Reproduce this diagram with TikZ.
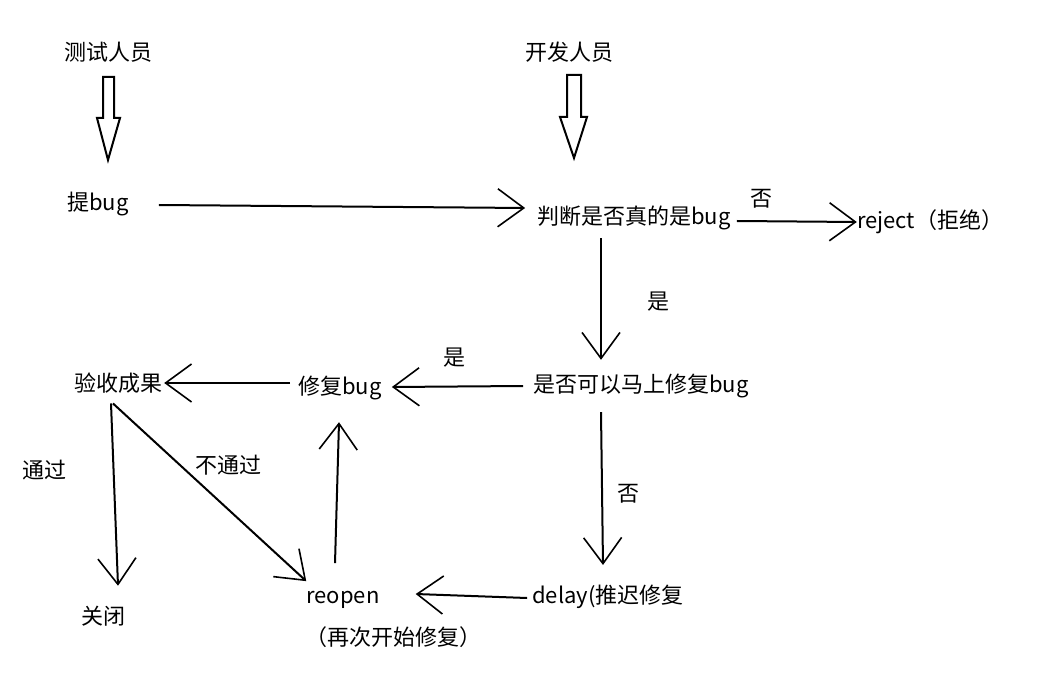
\documentclass[tikz,border=0pt]{standalone}
\usepackage{fontspec}
\setmainfont{Noto Sans CJK SC}
\usetikzlibrary{arrows.meta,calc}
\tikzset{
  lbl/.style={inner sep=0pt, anchor=center, font=\fontsize{22}{25}\selectfont},
  ln/.style={line width=2pt, -{Straight Barb[length=26pt,width=38pt,line width=1.6pt]}},
  hollow/.style={line width=2pt, fill=white, line join=miter}
}
\begin{document}
\begin{tikzpicture}[x=1pt,y=-1pt]
\useasboundingbox (0,0) rectangle (1064,684);
% nodes
\node[lbl] (tester) at (108,52) {测试人员};
\node[lbl] (dev) at (569,52) {开发人员};
\node[lbl] (tibug) at (98,204) {提bug};
\node[lbl] (judge) at (634,218) {判断是否真的是bug};
\node[lbl] (reject) at (930,222) {reject（拒绝）};
\node[lbl] (canfix) at (641,386) {是否可以马上修复bug};
\node[lbl] (fix) at (340,388) {修复bug};
\node[lbl] (accept) at (118,383) {验收成果};
\node[lbl] (close) at (103,616) {关闭};
\node[lbl] (reopen) at (343,600) {reopen};
\node[lbl] (again) at (393,637) {（再次开始修复）};
\node[lbl] (delay) at (608,597) {delay(推迟修复};
% hollow block arrows
\draw[hollow] (103,77) -- (114,77) -- (114,118) -- (120,118) -- (108,160) -- (97,118) -- (103,118) -- cycle;
\draw[hollow] (567,75) -- (581,75) -- (581,117) -- (587,117) -- (574,158) -- (560,117) -- (567,117) -- cycle;
% connectors
\draw[ln] ($(tibug.east)+(30,1)$) -- ($(judge.west)+(-12,-10)$);
\draw[ln] ($(judge.east)+(6,3)$) -- ($(reject.west)+(0,0)$);
\node[lbl] at (761,199) {否};
\draw[ln] ($(judge.south)+(-33,8)$) -- ($(canfix.north)+(-40,-14)$);
\node[lbl] at (658,302) {是};
\draw[ln] ($(canfix.west)+(-10,0)$) -- ($(fix.east)+(10,-1)$);
\node[lbl] at (454,358) {是};
\draw[ln] ($(fix.west)+(-8,-5)$) -- ($(accept.east)+(2,0)$);
\draw[ln] ($(accept.south)+(-7,10)$) -- ($(close.north)+(15,-20)$);
\node[lbl] at (44,470) {通过};
\draw[ln] ($(accept.south)+(-5,10)$) -- ($(reopen.north west)+(0,-10)$);
\node[lbl] at (228,465) {不通过};
\draw[ln] ($(reopen.north)+(-8,-28)$) -- ($(fix.south)+(-1,22)$);
\draw[ln] ($(canfix.south)+(-40,14)$) -- ($(delay.north)+(-5,-20)$);
\node[lbl] at (628,494) {否};
\draw[ln] ($(delay.west)+(-5,1)$) -- ($(reopen.east)+(36,-6)$);
\end{tikzpicture}
\end{document}
